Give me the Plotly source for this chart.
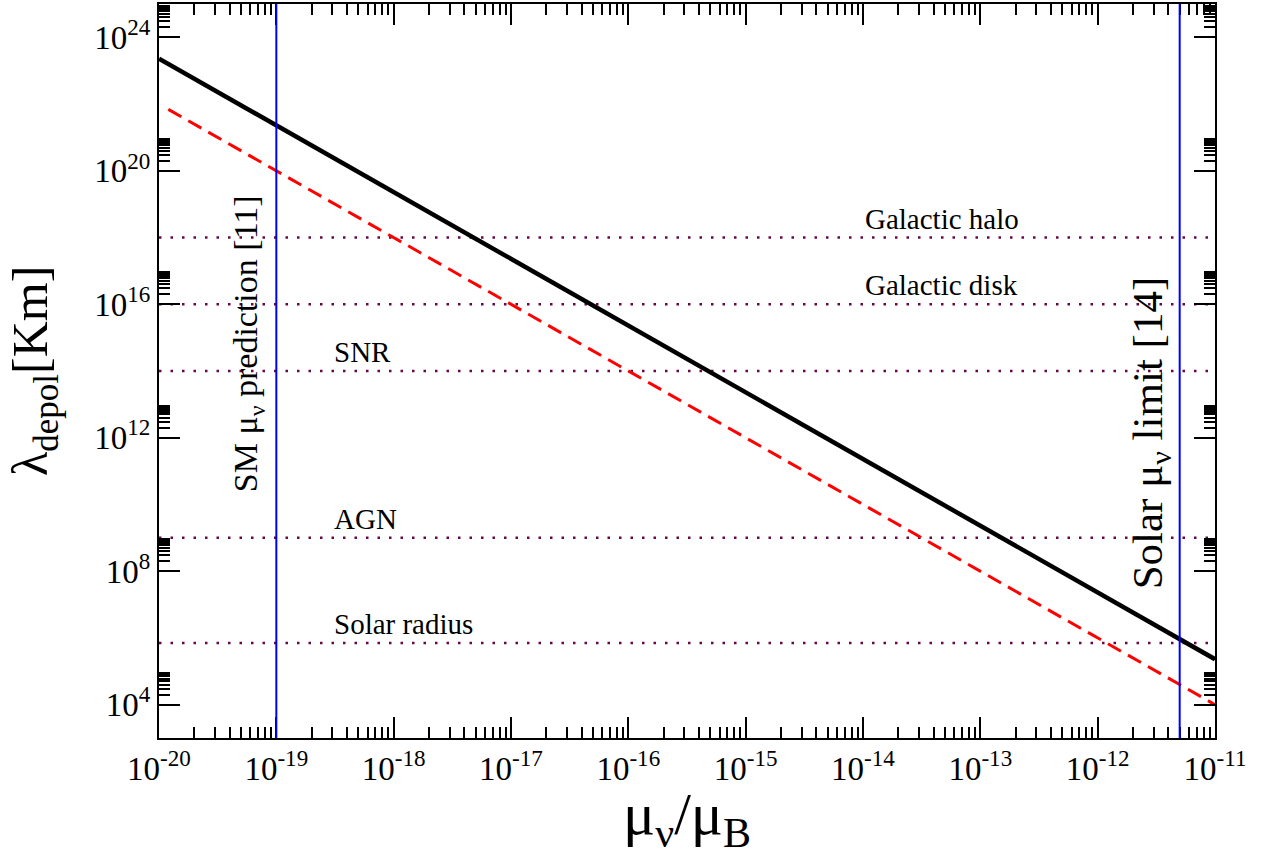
import numpy as np
import plotly.graph_objects as go

# ---- data ----
mu_black = [1e-20, 1e-11]
lam_black = [2.3e23, 2.3e5]

mu_red = [1.2e-20, 1e-11]
lam_red = [6.94e21, 1.0e4]

vline_mu = [1e-19, 5e-12]
vline_labels = ["SM μ<sub>ν</sub> prediction [11]", "Solar μ<sub>ν</sub> limit [14]"]

scale_names = ["Galactic halo", "Galactic disk", "SNR", "AGN", "Solar radius"]
scale_lambda = [1e18, 1e16, 1e14, 1e9, 7e5]
scale_label_mu = [1e-14, 1e-14, 3e-19, 3e-19, 3e-19]

x_range = [1e-20, 1e-11]
y_range = [1e3, 1e25]

x_major = [10.0 ** e for e in range(-20, -10)]
x_major_text = [f"10<sup>{e}</sup>" for e in range(-20, -10)]
x_minor = [k * 10.0 ** e for e in range(-20, -11) for k in range(2, 10)]

y_major = [10.0 ** e for e in range(4, 25, 4)]
y_major_text = [f"10<sup>{e}</sup>" for e in range(4, 25, 4)]
y_minor = [k * 10.0 ** e for e in range(4, 25, 4) for k in range(2, 10)]

FONT = "Liberation Serif, Times New Roman, serif"
MAROON = "#670748"

fig = go.Figure()

for lam in scale_lambda:
    fig.add_hline(y=lam, line=dict(color=MAROON, width=2.5, dash="2.5px,9px"), layer="below")

for mu in vline_mu:
    fig.add_vline(x=mu, line=dict(color="#0000ff", width=2))

fig.add_trace(go.Scatter(x=mu_red, y=lam_red, mode="lines",
                         line=dict(color="#ff0000", width=3, dash="15px,8px"),
                         showlegend=False))
fig.add_trace(go.Scatter(x=mu_black, y=lam_black, mode="lines",
                         line=dict(color="black", width=4.5),
                         showlegend=False))

annotations = []
for name, lam, mu in zip(scale_names, scale_lambda, scale_label_mu):
    annotations.append(dict(x=np.log10(mu), y=np.log10(lam), xref="x", yref="y",
                            text=name, showarrow=False, xanchor="left", yanchor="bottom",
                            yshift=1, font=dict(family=FONT, size=29, color="black")))

annotations.append(dict(x=np.log10(vline_mu[0]), y=0.537, xref="x", yref="paper",
                        text=vline_labels[0], showarrow=False, textangle=-90,
                        xanchor="center", yanchor="middle", xshift=-28,
                        font=dict(family=FONT, size=34, color="black")))
annotations.append(dict(x=np.log10(vline_mu[1]), y=0.416, xref="x", yref="paper",
                        text=vline_labels[1], showarrow=False, textangle=-90,
                        xanchor="center", yanchor="middle", xshift=-29,
                        font=dict(family=FONT, size=43, color="black")))

annotations.append(dict(x=0, y=0.5, xref="paper", yref="paper",
                        text="λ<sub>depol</sub>[Km]", showarrow=False, textangle=-90,
                        xanchor="center", yanchor="middle", xshift=-125,
                        font=dict(family=FONT, size=50, color="black")))
annotations.append(dict(x=0.5, y=0, xref="paper", yref="paper",
                        text="μ<sub>ν</sub>/μ<sub>B</sub>", showarrow=False,
                        xanchor="center", yanchor="middle", yshift=-80,
                        font=dict(family=FONT, size=60, color="black")))

axis_common = dict(type="log", showline=True, linecolor="black", linewidth=2,
                   mirror="ticks", ticks="inside", ticklen=21, tickwidth=2,
                   tickcolor="black", showgrid=False, zeroline=False,
                   tickfont=dict(family=FONT, size=33, color="black"))

fig.update_layout(
    width=1266, height=862,
    margin=dict(l=159, r=51, t=2, b=124),
    paper_bgcolor="white", plot_bgcolor="white",
    xaxis=dict(range=[np.log10(x_range[0]), np.log10(x_range[1])],
               tickmode="array", tickvals=x_major, ticktext=x_major_text,
               minor=dict(tickmode="array", tickvals=x_minor, ticks="inside",
                          ticklen=11, tickwidth=2, tickcolor="black", showgrid=False),
               **axis_common),
    yaxis=dict(range=[np.log10(y_range[0]), np.log10(y_range[1])],
               tickmode="array", tickvals=y_major, ticktext=y_major_text,
               minor=dict(tickmode="array", tickvals=y_minor, ticks="inside",
                          ticklen=11, tickwidth=2, tickcolor="black", showgrid=False),
               **axis_common),
    annotations=annotations,
    showlegend=False,
)

fig.write_html("out.html", config={"displayModeBar": False},
               post_script="document.body.style.margin='0px';")
